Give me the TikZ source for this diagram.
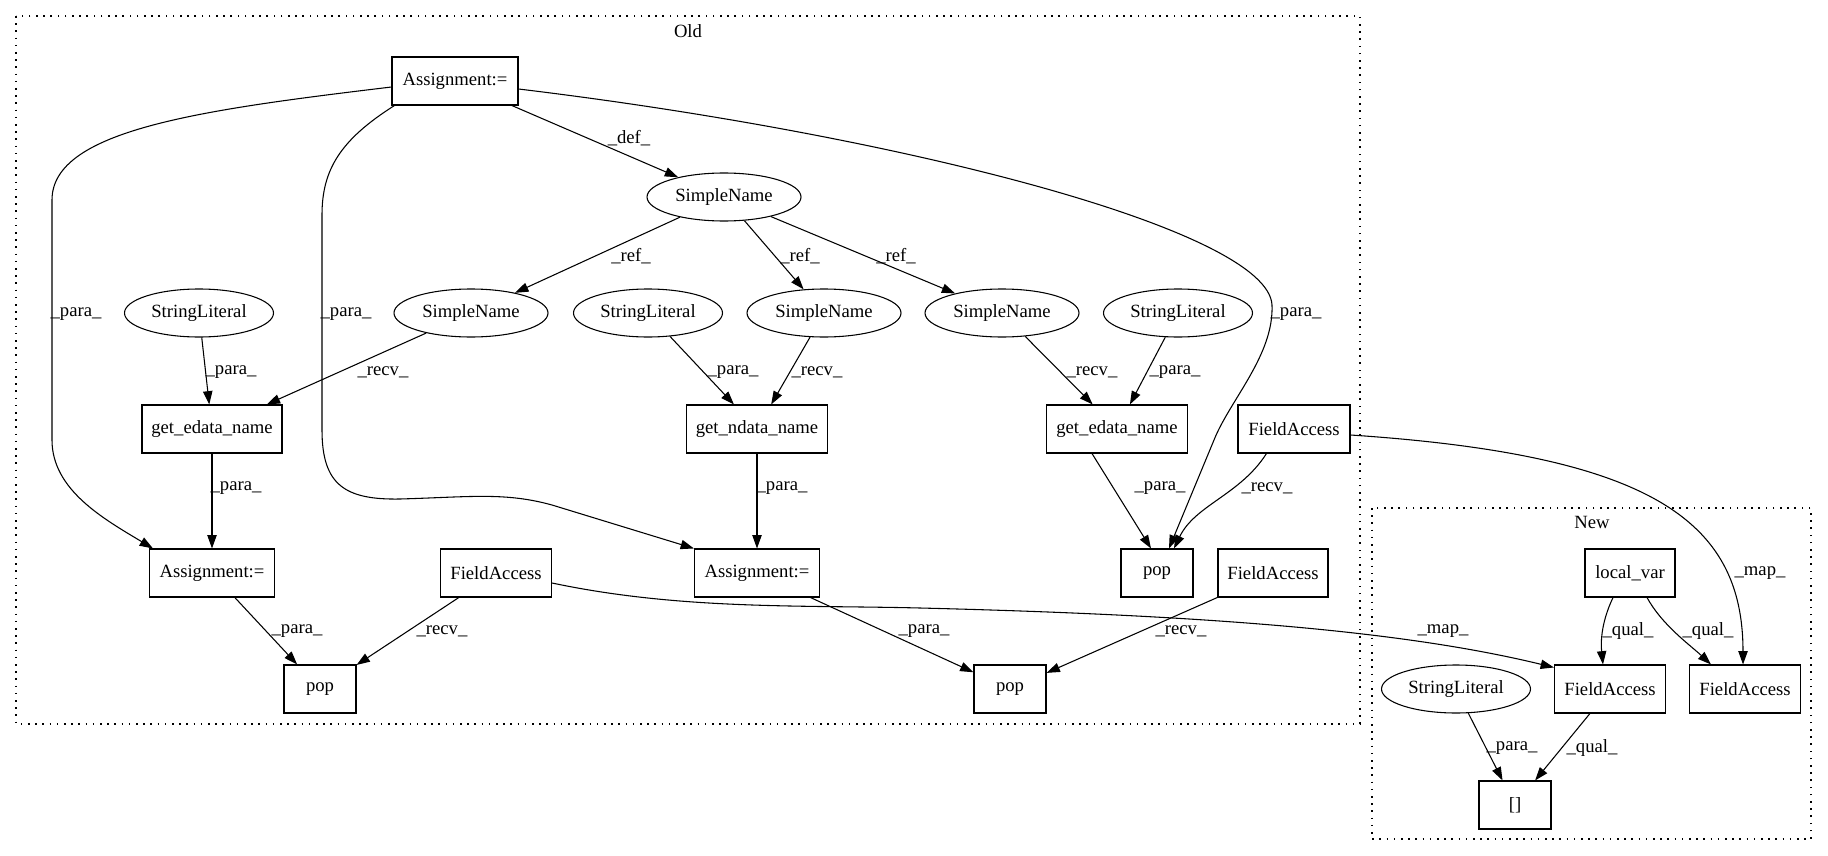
\documentclass[tikz,border=0pt]{standalone}
\usepackage{fontspec}
\setmainfont{Liberation Serif}
\usetikzlibrary{arrows.meta,calc,shapes.geometric}
\begin{document}
\begin{tikzpicture}[x=0.75pt,y=-0.75pt,
  every node/.style={font=\fontsize{14pt}{16pt}\selectfont},
  box/.style={draw,line width=0.8pt,rectangle,minimum height=36pt,inner sep=0pt},
  ell/.style={draw,line width=0.8pt,ellipse,minimum height=36pt,inner sep=0pt},
  edge/.style={draw,line width=0.8pt,-{Triangle[length=10pt,width=7pt]}},
  lab/.style={inner sep=0pt},
  cluster/.style={draw,line width=0.9pt,dash pattern=on 1.2pt off 4.2pt}]
\useasboundingbox (0,0) rectangle (1828,856);
% clusters
\draw[cluster] (16,16) rectangle (1360,724);
\draw[cluster] (1372,508) rectangle (1811,839);
\node[lab] (oldlab) at (688,31) {Old};
\node[lab] (newlab) at (1592,522) {New};
% Old nodes
\node[box,minimum width=94.5pt] (a1) at (455,81) {Assignment:=};
\node[ell,minimum width=115.5pt] (sn0) at (724,197) {SimpleName};
\node[ell,minimum width=111.75pt] (sl1) at (199,313) {StringLiteral};
\node[ell,minimum width=115.5pt] (sn1) at (471,313) {SimpleName};
\node[ell,minimum width=111.75pt] (sl2) at (648,313) {StringLiteral};
\node[ell,minimum width=115.5pt] (sn2) at (824,313) {SimpleName};
\node[ell,minimum width=115.5pt] (sn3) at (1002,313) {SimpleName};
\node[ell,minimum width=111.75pt] (sl3) at (1178,313) {StringLiteral};
\node[box,minimum width=105pt] (ge1) at (212,429) {get\_edata\_name};
\node[box,minimum width=105.75pt] (gn) at (757,429) {get\_ndata\_name};
\node[box,minimum width=105.75pt] (ge2) at (1117,429) {get\_edata\_name};
\node[box,minimum width=84pt] (fa1) at (1294,429) {FieldAccess};
\node[box,minimum width=93.75pt] (a2) at (212,573) {Assignment:=};
\node[box,minimum width=83.25pt] (fa2) at (496,573) {FieldAccess};
\node[box,minimum width=93.75pt] (a3) at (757,573) {Assignment:=};
\node[box,minimum width=54pt] (pop1) at (1157,573) {pop};
\node[box,minimum width=82.5pt] (fa3) at (1273,573) {FieldAccess};
\node[box,minimum width=54pt] (pop2) at (320,689) {pop};
\node[box,minimum width=54pt] (pop3) at (1010,689) {pop};
% New nodes
\node[box,minimum width=67.5pt] (lv) at (1630,573) {local\_var};
\node[ell,minimum width=111.75pt] (sl4) at (1456,689) {StringLiteral};
\node[box,minimum width=83.25pt] (fa4) at (1610,689) {FieldAccess};
\node[box,minimum width=83.25pt] (fa5) at (1745,689) {FieldAccess};
\node[box,minimum width=54pt] (br) at (1515,805) {[]};
% straight edges
\draw[edge] (a1) -- (sn0);
\draw[edge] (sn0) -- (sn1);
\draw[edge] (sn0) -- (sn2);
\draw[edge] (sn0) -- (sn3);
\draw[edge] (sl1) -- (ge1);
\draw[edge] (sn1) -- (ge1);
\draw[edge] (sl2) -- (gn);
\draw[edge] (sn2) -- (gn);
\draw[edge] (sn3) -- (ge2);
\draw[edge] (sl3) -- (ge2);
\draw[edge] (ge1) -- (a2);
\draw[edge] (gn) -- (a3);
\draw[edge] ($(ge2.south)+(-25,0)$) -- ($(pop1.north)+(-6,0)$);
\draw[edge] (a2) -- (pop2);
\draw[edge] (fa2) -- (pop2);
\draw[edge] (a3) -- (pop3);
\draw[edge] (fa3) -- (pop3);
\draw[edge] (sl4) -- (br);
\draw[edge] (fa4) -- (br);
% curved edges
\draw[edge] ($(a1.west)+(0,6)$) .. controls (200,110) and (52,130) .. (52,200) -- (52,440) .. controls (52,490) and (104,519) .. ($(a2.north west)+(4,0)$);
\draw[edge] ($(a1.south west)+(3,0)$) .. controls (340,140) and (322,170) .. (322,215) -- (322,430) .. controls (322,485) and (345,500) .. (400,499) .. controls (470,497) and (505,492) .. (552,505) -- (a3.north west);
\draw[edge] ($(a1.east)+(0,8)$) .. controls (900,135) and (1268,230) .. (1272,305) .. controls (1274,355) and (1230,400) .. (1214,440) -- ($(pop1.north)+(12,0)$);
\draw[edge] ($(fa1.south west)+(29,0)$) .. controls (1240,495) and (1195,505) .. ($(pop1.north)+(17,0)$);
\draw[edge] ($(fa2.east)+(0,10)$) .. controls (680,610) and (800,605) .. (920,608) .. controls (1200,615) and (1400,630) .. ($(fa4.north west)+(0,3)$);
\draw[edge] ($(fa1.east)+(0,6)$) .. controls (1650,455) and (1743,520) .. ($(fa5.north)+(-2,0)$);
\draw[edge] ($(lv.south)+(-17,0)$) .. controls (1600,625) and (1601,645) .. ($(fa4.north)+(-7,0)$);
\draw[edge] ($(lv.south)+(17,0)$) .. controls (1662,625) and (1690,645) .. ($(fa5.north)+(-34,0)$);
% edge labels
\node[lab] (l1) at (629,138) {\_def\_};
\node[lab] (l2) at (631,256) {\_ref\_};
\node[lab] (l3) at (800,256) {\_ref\_};
\node[lab] (l4) at (896,256) {\_ref\_};
\node[lab] (l5) at (76,314) {\_para\_};
\node[lab] (l6) at (346,314) {\_para\_};
\node[lab] (l7) at (1296,314) {\_para\_};
\node[lab] (l8) at (231,372) {\_para\_};
\node[lab] (l9) at (383,372) {\_recv\_};
\node[lab] (l10) at (733,372) {\_para\_};
\node[lab] (l11) at (817,372) {\_recv\_};
\node[lab] (l12) at (1092,372) {\_recv\_};
\node[lab] (l13) at (1175,372) {\_para\_};
\node[lab] (l14) at (236,488) {\_para\_};
\node[lab] (l15) at (782,488) {\_para\_};
\node[lab] (l16) at (1160,488) {\_para\_};
\node[lab] (l17) at (1267,488) {\_recv\_};
\node[lab] (l18) at (297,631) {\_para\_};
\node[lab] (l19) at (442,631) {\_recv\_};
\node[lab] (l20) at (924,631) {\_para\_};
\node[lab] (l21) at (1181,631) {\_recv\_};
\node[lab] (l22) at (1443,631) {\_map\_};
\node[lab] (l23) at (1760,573) {\_map\_};
\node[lab] (l24) at (1628,631) {\_qual\_};
\node[lab] (l25) at (1708,631) {\_qual\_};
\node[lab] (l26) at (1512,748) {\_para\_};
\node[lab] (l27) at (1592,748) {\_qual\_};
\end{tikzpicture}
\end{document}
